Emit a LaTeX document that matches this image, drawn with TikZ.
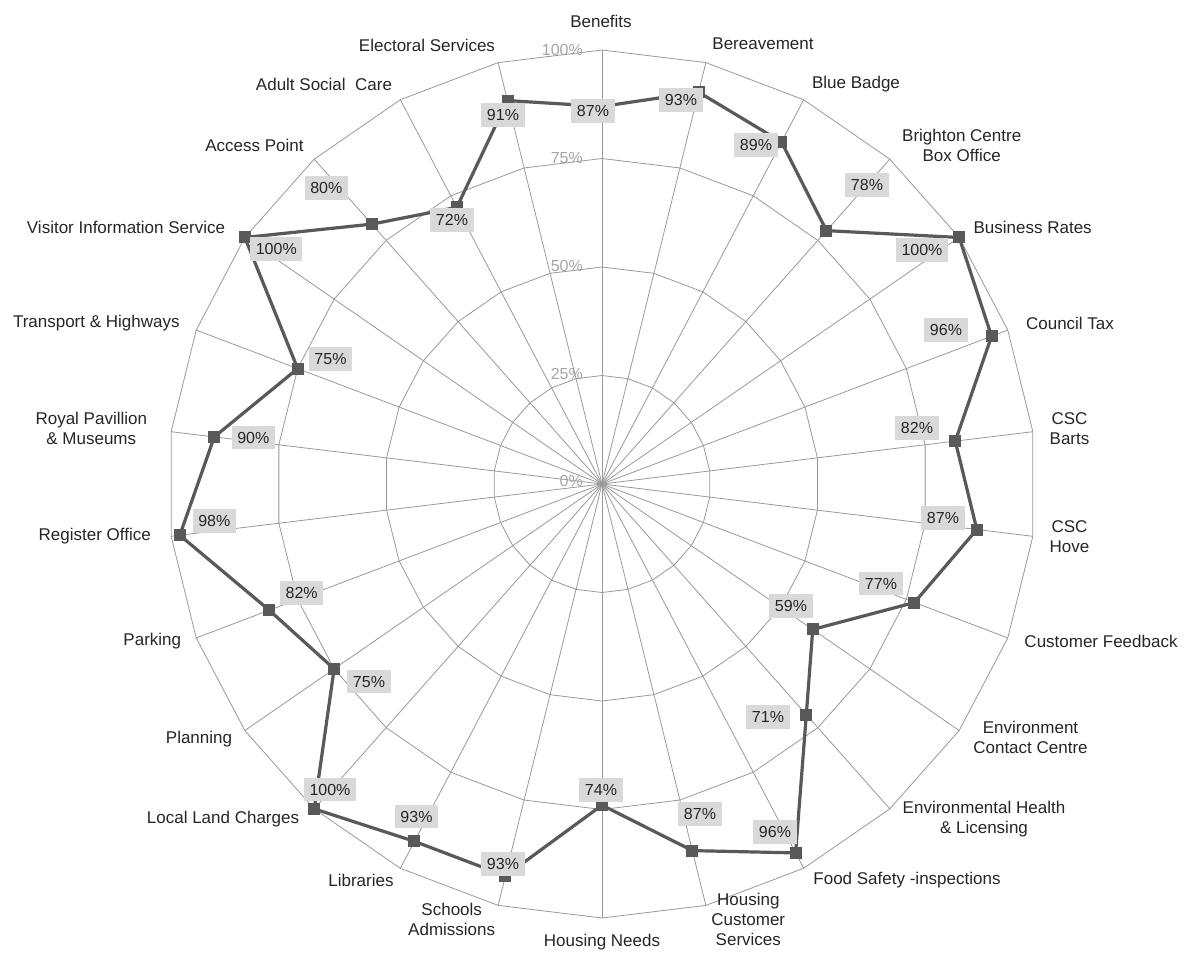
\documentclass[tikz,border=0pt]{standalone}
\usepackage{fontspec}
\setmainfont{Liberation Sans}
\definecolor{gridc}{HTML}{999999}
\definecolor{seriesc}{HTML}{595959}
\definecolor{boxc}{HTML}{D9D9D9}
\definecolor{tickc}{HTML}{A6A6A6}
\definecolor{txtc}{HTML}{262626}
\begin{document}
\begin{tikzpicture}[x=1pt,y=-1pt,
  gridline/.style={draw=gridc, line width=0.8pt},
  seriesline/.style={draw=seriesc, line width=3.2pt, line join=round},
  marker/.style={rectangle, fill=seriesc, minimum size=12pt, inner sep=0pt},
  vallabel/.style={rectangle, fill=boxc, text=txtc, font=\fontsize{16}{18}\selectfont, inner xsep=5.5pt, text height=11.5pt, text depth=0pt, inner ysep=6pt},
  catlabel/.style={text=txtc, font=\fontsize{17}{20}\selectfont, align=center, inner sep=0pt},
  ticklabel/.style={text=tickc, font=\fontsize{16}{18}\selectfont, anchor=east, inner sep=0pt}
]
\useasboundingbox (0,0) rectangle (1184,954);
\fill[white] (0,0) rectangle (1184,954);
\def\cx{602}\def\cy{484}\def\R{434}
\coordinate (o) at (\cx,\cy);
% spokes
\foreach \k in {0,...,25}{
  \coordinate (a\k) at ({\cx+\R*sin(\k*360/26)},{\cy-\R*cos(\k*360/26)});
  \draw[gridline] (o) -- (a\k);
}
% rings
\foreach \f in {0.25,0.5,0.75,1}{
  \draw[gridline] plot[samples at={0,...,25}] ({\cx+\f*\R*sin(\x*360/26)},{\cy-\f*\R*cos(\x*360/26)}) -- cycle;
}
% tick labels
\node[ticklabel] (t0) at (583,481) {0\%};
\node[ticklabel] (t25) at (583,374) {25\%};
\node[ticklabel] (t50) at (583,266) {50\%};
\node[ticklabel] (t75) at (583,158) {75\%};
\node[ticklabel] (t100) at (583,50) {100\%};
% data coordinates
\foreach \i/\v in {0/87,1/93,2/89,3/78,4/100,5/96,6/82,7/87,8/77,9/59,10/71,11/96,12/87,13/74,14/93,15/93,16/100,17/75,18/82,19/98,20/90,21/75,22/100,23/80,24/72,25/91}{
  \coordinate (d\i) at ({\cx+\v/100*\R*sin(\i*360/26)},{\cy-\v/100*\R*cos(\i*360/26)});
}
\draw[seriesline] (d0) foreach \i in {1,...,25}{ -- (d\i)} -- cycle;
\foreach \i in {0,...,25}{ \node[marker] (p\i) at (d\i) {}; }
% value labels
\foreach \i/\v/\lx/\ly in {0/87/593/111,1/93/681/100,2/89/756/145,3/78/867/185,4/100/922/250,5/96/946/330,6/82/917/428,7/87/943/518,8/77/881/583.5,9/59/791/606,10/71/768/717,11/96/775/832,12/87/700/814,13/74/601/790,14/93/503/864,15/93/416.5/816.5,16/100/330/789.5,17/75/369/681.5,18/82/301.7/593,19/98/214.3/521,20/90/253.3/437.5,21/75/330.5/359,22/100/276.3/249,23/80/326.3/188,24/72/452/220,25/91/503/115}{
  \node[vallabel] (v\i) at (\lx,\ly) {\v\%};
}
% category labels
\node[catlabel] (c0) at (601,21) {Benefits};
\node[catlabel] (c1) at (763,44) {Bereavement};
\node[catlabel] (c2) at (856,84) {Blue Badge};
\node[catlabel] (c3) at (961.7,145.5) {Brighton Centre\\Box Office};
\node[catlabel] (c4) at (1032.7,227) {Business Rates};
\node[catlabel] (c5) at (1070,323) {Council Tax};
\node[catlabel] (c6) at (1069.5,428.5) {CSC\\Barts};
\node[catlabel] (c7) at (1069.5,536.5) {CSC\\Hove};
\node[catlabel] (c8) at (1101,641.5) {Customer Feedback};
\node[catlabel] (c9) at (1030.5,737.5) {Environment\\Contact Centre};
\node[catlabel] (c10) at (984,819.5) {Environmental Health\\\& Licensing};
\node[catlabel] (c11) at (907,880.5) {Food Safety -inspections};
\node[catlabel] (c12) at (748.3,919.5) {Housing\\Customer\\Services};
\node[catlabel] (c13) at (602,942) {Housing Needs};
\node[catlabel] (c14) at (451.7,919.5) {Schools\\Admissions};
\node[catlabel] (c15) at (361,880.5) {Libraries};
\node[catlabel] (c16) at (223,819) {Local Land Charges};
\node[catlabel] (c17) at (199,739) {Planning};
\node[catlabel] (c18) at (152.3,641.5) {Parking};
\node[catlabel] (c19) at (94.7,536.5) {Register Office};
\node[catlabel] (c20) at (91.3,428.5) {Royal Pavillion\\\& Museums};
\node[catlabel] (c21) at (96.3,323) {Transport \& Highways};
\node[catlabel] (c22) at (126,227) {Visitor Information Service};
\node[catlabel] (c23) at (254.5,145) {Access Point};
\node[catlabel] (c24) at (324,84) {Adult Social\ \ Care};
\node[catlabel] (c25) at (427,45) {Electoral Services};
\end{tikzpicture}
\end{document}
